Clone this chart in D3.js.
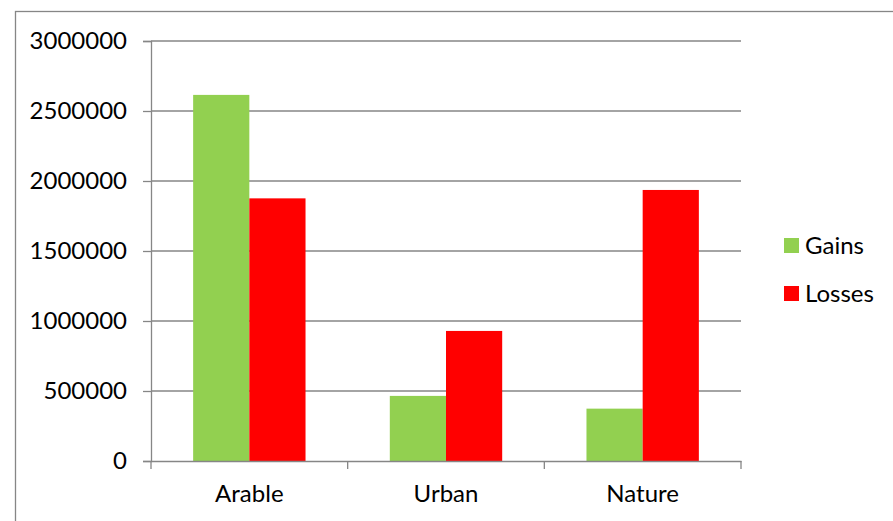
<!DOCTYPE html>
<html>
<head>
<meta charset="utf-8">
<script src="https://cdn.jsdelivr.net/npm/d3@7"></script>
<style>
  html, body { margin: 0; padding: 0; background: #fff; }
  svg { display: block; font-family: Lato, "Open Sans", sans-serif; }
</style>
</head>
<body>
<svg id="chart" width="893" height="521"></svg>
<script>
// Land-use change by class
const categories = ["Arable", "Urban", "Nature"];
const seriesNames = ["Gains", "Losses"];
const gains = [2615000, 465000, 374000];
const losses = [1876000, 929000, 1936000];
const yTicks = [0, 500000, 1000000, 1500000, 2000000, 2500000, 3000000];
const colors = ["#92D050", "#FF0000"];

const svg = d3.select("#chart");
const W = 893, H = 521;
const plot = { left: 151, right: 741, top: 41, bottom: 461 };
const gridColor = "#868686";
const fontSize = 24;

// chart frame
svg.append("rect")
  .attr("x", 15.5).attr("y", 11.5)
  .attr("width", W + 10).attr("height", H + 10)
  .attr("fill", "#fff").attr("stroke", gridColor).attr("stroke-width", 1.3);

const x = d3.scaleBand().domain(categories).range([plot.left, plot.right]).paddingInner(0).paddingOuter(0);
// two bars per category, gap of 75% of a bar width on each side
const inner = d3.scaleBand().domain(seriesNames).range([0, x.bandwidth()]).paddingOuter(0.75).paddingInner(0);
const y = d3.scaleLinear().domain([0, 3000000]).range([plot.bottom, plot.top]);

// horizontal gridlines
svg.append("g").selectAll("line").data(yTicks.slice(1)).join("line")
  .attr("x1", plot.left).attr("x2", plot.right)
  .attr("y1", d => y(d)).attr("y2", d => y(d))
  .attr("stroke", gridColor).attr("stroke-width", 1.3);

// bars
const rows = categories.map((c, i) => ({ cat: c, values: [gains[i], losses[i]] }));
svg.append("g").selectAll("g").data(rows).join("g")
  .attr("transform", d => `translate(${x(d.cat)},0)`)
  .selectAll("rect").data(d => d.values.map((v, j) => ({ s: seriesNames[j], v, j })))
  .join("rect")
  .attr("x", d => inner(d.s))
  .attr("width", inner.bandwidth())
  .attr("y", d => y(d.v))
  .attr("height", d => y(0) - y(d.v))
  .attr("fill", d => colors[d.j]);

// y axis
const yAxis = svg.append("g").attr("transform", `translate(${plot.left},0)`)
  .call(d3.axisLeft(y).tickValues(yTicks).tickFormat(d3.format("d")).tickSizeOuter(0).tickSize(8).tickPadding(16));
// x axis
const xAxis = svg.append("g").attr("transform", `translate(0,${plot.bottom})`)
  .call(d3.axisBottom(x).tickSize(0).tickPadding(24).tickSizeOuter(0));
// category boundary ticks
const bounds = [plot.left, ...categories.map(c => x(c) + x.bandwidth())];
xAxis.selectAll("line.bound").data(bounds).join("line").attr("class", "bound")
  .attr("x1", d => d).attr("x2", d => d).attr("y1", 0).attr("y2", 8)
  .attr("stroke", gridColor).attr("stroke-width", 1.3);

[yAxis, xAxis].forEach(g => {
  g.selectAll(".domain").attr("stroke", gridColor).attr("stroke-width", 1.3);
  g.selectAll(".tick line").attr("stroke", gridColor).attr("stroke-width", 1.3);
  g.selectAll("text").attr("font-size", fontSize).attr("fill", "#000").attr("font-family", "Lato, 'Open Sans', sans-serif");
});

// legend
const legend = svg.append("g").attr("transform", "translate(784,238)");
seriesNames.forEach((s, i) => {
  const g = legend.append("g").attr("transform", `translate(0,${i * 48})`);
  g.append("rect").attr("width", 15).attr("height", 15).attr("fill", colors[i]);
  g.append("text").attr("x", 21).attr("y", 15.5).attr("font-size", fontSize).attr("fill", "#000").text(s);
});
</script>
</body>
</html>
